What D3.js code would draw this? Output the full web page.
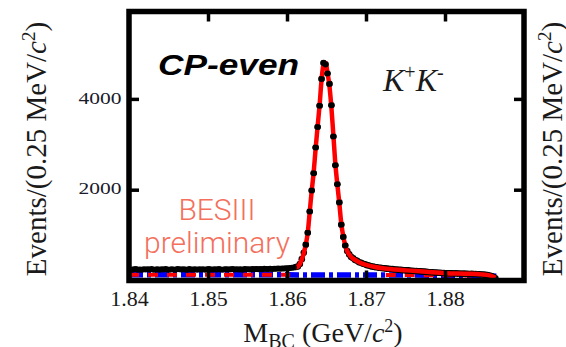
<!DOCTYPE html>
<html><head><meta charset="utf-8">
<script src="https://cdn.jsdelivr.net/npm/d3@7"></script>
<style>body{margin:0;background:#fff}svg{display:block}</style>
</head><body><svg id="c" width="566" height="347"></svg>
<script>
// ---- data ----
const massMin = 1.84, binWidth = 0.00025;   // bins of 0.25 MeV/c^2
const counts = [
 243,236,248,251,239,245,237,250,242,246,
 240,253,238,244,249,236,247,241,252,245,
 239,248,243,237,251,246,240,249,244,238,
 252,245,241,247,239,250,243,248,236,246,
 251,242,245,249,240,253,244,238,247,250,
 243,246,252,241,248,245,250,239,254,247,
 249,244,251,246,255,248,252,250,257,253,
 256,259,255,261,258,263,260,266,264,270,
 268,274,279,288,296,310,365,470,610,790,
 1050,1520,1980,2360,2930,3380,3850,4440,4790,4760,
 4560,4330,3860,3170,2540,2120,1720,1230,960,770,
 650,575,520,488,452,433,402,390,368,358,
 338,330,312,306,295,292,281,279,270,268,
 261,259,252,250,243,241,235,233,228,227,
 222,222,216,215,210,209,204,202,196,195,
 189,188,182,181,175,173,170,169,164,164,
 160,161,157,158,154,156,152,154,150,151,
 147,149,144,146,141,142,137,138,131,130,
 124,119,110,98,78,46];
const fitMass = [1.8400,1.8450,1.8500,1.8550,1.8580,1.8600,1.8610,1.861375,1.861625,1.861875,
 1.862125,1.862375,1.862625,1.862875,1.863125,1.863375,1.863625,1.863875,1.864125,1.864375,
 1.864625,1.864875,1.865125,1.865375,1.865625,1.865875,1.866125,1.866375,1.866625,1.866875,
 1.867125,1.867375,1.867625,1.867875,1.868125,1.868625,1.869125,1.869625,1.870125,1.871125,
 1.872125,1.873625,1.875125,1.877625,1.880125,1.882625,1.884625,1.885625,1.886125,1.8864];
const fitVals = [242,244,246,250,256,266,290,305,365,465,
 605,790,1050,1510,1970,2380,2910,3390,3860,4420,
 4760,4790,4580,4280,3800,3190,2560,2110,1700,1250,
 970,775,645,572,518,452,403,366,340,298,
 270,244,223,192,162,150,135,113,82,60];
const bkgMass = [1.840,1.850,1.860,1.870,1.875,1.880,1.883,1.885,1.886,1.8865];
const bkgBlue = [125,125,124,122,120,116,112,106,100,95];
const bkgRedMass = [1.840,1.850,1.8604,1.8605,1.8724,1.8725,1.880,1.883,1.885,1.886,1.8865];
const bkgRedVals = [126,126,125,null,null,121,116,112,106,100,95];
const xTicks = [1.84,1.85,1.86,1.87,1.88];
const yTicks = [2000,4000];
const xDomain = [1.84,1.89];
const yDomain = [0,5925];

// ---- chart ----
const svg = d3.select('#c');
const x = d3.scaleLinear().domain(xDomain).range([129,524]);
const y = d3.scaleLinear().domain(yDomain).range([280.5,11.5]);
const binCenter = i => massMin + (i + 0.5) * binWidth;

svg.append('clipPath').attr('id','clip').append('rect')
  .attr('x',129).attr('y',11.5).attr('width',395).attr('height',269);
const plot = svg.append('g').attr('clip-path','url(#clip)');

const lineB = d3.line().x((d,i)=>x(bkgMass[i])).y(d=>y(d));
plot.append('path').datum(bkgBlue).attr('d',lineB)
  .attr('fill','none').attr('stroke','#0000ff').attr('stroke-width',5.5)
  .attr('stroke-dasharray','14,4,4,4');
const lineR = d3.line().defined(d=>d!==null).x((d,i)=>x(bkgRedMass[i])).y(d=>y(d));
plot.append('path').datum(bkgRedVals).attr('d',lineR)
  .attr('fill','none').attr('stroke','#ff0000').attr('stroke-width',4)
  .attr('stroke-dasharray','10,9');

// data points (under the fit line in the tail)
plot.append('g').selectAll('circle').data(counts.map((d,i)=>[i,d]).filter(p=>p[0]>=84)).join('circle')
  .attr('cx',p=>x(binCenter(p[0]))).attr('cy',p=>y(p[1]))
  .attr('r',3.3).attr('fill','#000');

const lineF = d3.line().curve(d3.curveMonotoneX).x((d,i)=>x(fitMass[i])).y(d=>y(d));
plot.append('path').datum(fitVals).attr('d',lineF)
  .attr('fill','none').attr('stroke','#ff0000').attr('stroke-width',4.5)
  .attr('stroke-linejoin','round');

// points of the low-mass side and peak flanks drawn above the fit line
plot.append('g').selectAll('circle')
  .data(counts.map((d,i)=>[i,d]).filter(p=>p[1]>700 || p[0]<84)).join('circle')
  .attr('cx',p=>x(binCenter(p[0]))).attr('cy',p=>y(p[1]))
  .attr('r',3).attr('fill','#000');

// axes
const tickStyle = g => { g.select('.domain').remove();
  g.selectAll('.tick line').attr('stroke','#000').attr('stroke-width',3.5); };
svg.append('g').attr('transform','translate(0,280.5)')
  .call(d3.axisBottom(x).tickValues(xTicks).tickSize(-10).tickPadding(10).tickFormat(d3.format('.2f')))
  .call(tickStyle)
  .call(g=>g.selectAll('text').attr('fill','#1a1a1a')
     .style('font-family','"Liberation Serif", serif').style('font-size','22px'));
svg.append('g').attr('transform','translate(0,11.5)')
  .call(d3.axisTop(x).tickValues(xTicks.slice(1)).tickSize(-10).tickFormat(''))
  .call(tickStyle);
svg.append('g').attr('transform','translate(129,0)')
  .call(d3.axisLeft(y).tickValues(yTicks).tickSize(-10).tickPadding(7.5).tickFormat(d3.format('d')))
  .call(tickStyle)
  .call(g=>g.selectAll('text').attr('fill','#1a1a2a')
     .style('font-family','"Liberation Serif", serif').style('font-size','17px')
     .attr('textLength',43).attr('lengthAdjust','spacingAndGlyphs').attr('dy','0.25em'));
svg.append('g').attr('transform','translate(524,0)')
  .call(d3.axisRight(y).tickValues(yTicks).tickSize(-10).tickFormat(''))
  .call(tickStyle);

// frame
svg.append('rect').attr('x',129).attr('y',11.5).attr('width',395).attr('height',269)
  .attr('fill','none').attr('stroke','#000').attr('stroke-width',5.5);

// titles
function yTitle(tx){
  const t = svg.append('text').attr('transform',`translate(${tx},149) rotate(-90)`)
    .attr('text-anchor','middle').attr('fill','#1a1a1a')
    .attr('font-family','Liberation Serif').attr('font-size',29);
  t.append('tspan').text('Events/(0.25 MeV/');
  t.append('tspan').attr('font-style','italic').text('c');
  t.append('tspan').attr('dy',-11).attr('font-size',19).text('2');
  t.append('tspan').attr('dy',11).text(')');
}
yTitle(46); yTitle(562);

const xt = svg.append('text').attr('x',323).attr('y',342).attr('text-anchor','middle')
  .attr('fill','#1a1a1a').attr('font-family','Liberation Serif').attr('font-size',28);
xt.append('tspan').text('M');
xt.append('tspan').attr('dy',6).attr('font-size',20).text('BC');
xt.append('tspan').attr('dy',-6).text(' (GeV/');
xt.append('tspan').attr('font-style','italic').text('c');
xt.append('tspan').attr('dy',-10).attr('font-size',18).text('2');
xt.append('tspan').attr('dy',10).text(')');

svg.append('text').attr('x',158).attr('y',75).attr('textLength',141).attr('lengthAdjust','spacingAndGlyphs')
  .attr('font-family','Liberation Sans').attr('font-style','italic').attr('font-weight','bold')
  .attr('font-size',30).attr('fill','#000').text('CP-even');

const kk = svg.append('text').attr('x',383).attr('y',91).attr('fill','#1a1a1a')
  .attr('font-family','Liberation Serif').attr('font-style','italic').attr('font-size',32);
kk.append('tspan').text('K');
kk.append('tspan').attr('dy',-12).attr('font-size',20).attr('font-style','normal').text('+');
kk.append('tspan').attr('dy',12).text('K');
kk.append('tspan').attr('dy',-12).attr('font-size',20).attr('font-style','normal').text('-');

svg.append('text').attr('x',217).attr('y',220).attr('text-anchor','middle').attr('fill','#f46f5c')
  .attr('font-family','Roboto').attr('font-weight',300).attr('font-size',30).text('BESIII');
svg.append('text').attr('x',217).attr('y',253).attr('text-anchor','middle').attr('fill','#f46f5c')
  .attr('font-family','Roboto').attr('font-weight',300).attr('font-size',30).text('preliminary');
</script></body></html>
